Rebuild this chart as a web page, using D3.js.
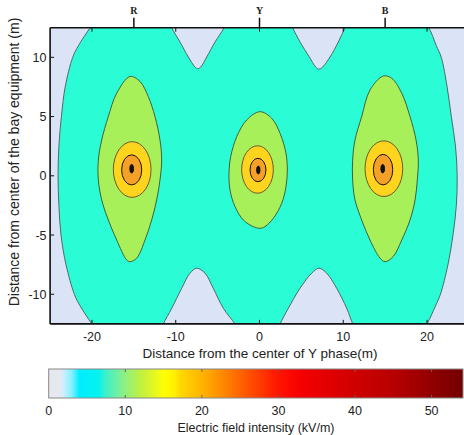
<!DOCTYPE html>
<html>
<head>
<meta charset="utf-8">
<script src="https://cdn.jsdelivr.net/npm/d3@7"></script>
<style>
  body { margin: 0; background: #fff; }
  text { font-family: "Liberation Sans", Arial, sans-serif; }
</style>
</head>
<body>
<div id="chart"></div>
<script>
// axis ticks
const xTicks = [-20, -10, 0, 10, 20];
const yTicks = [-10, -5, 0, 5, 10];
const cbTicks = [0, 10, 20, 30, 40, 50];
const phaseNames = ["R", "Y", "B"];
const phaseX = [-15, 0, 15];

// contour lines, [x (m), y (m)]
// outer contour (grey / turquoise boundary)
const edgeLeft = [[-19.0, 13.5], [-20.2, 12.5], [-21.6, 11], [-22.3, 10], [-23.2, 7.5], [-23.65, 5], [-23.95, 2.5], [-24.05, 0], [-23.95, -2.5], [-23.7, -5], [-23.1, -7.5], [-22.1, -10], [-21.4, -11], [-20.0, -12.5], [-18.9, -13.5]];
const edgeRight = [[19.0, 13.5], [20.2, 12.5], [21.1, 11], [21.7, 10], [22.4, 7.5], [22.9, 5], [23.4, 2.5], [23.6, 0], [23.5, -2.5], [23.1, -5], [22.5, -7.5], [21.6, -10], [21.0, -11], [20.0, -12.5], [19.1, -13.5]];
const notchTop1 = [[-11.0, 13.3], [-10.48, 12.48], [-9.49, 11.29], [-8.5, 10.03], [-7.7, 9.18], [-7.38, 9.04], [-7.02, 9.18], [-6.3, 10.03], [-5.31, 11.29], [-4.24, 12.48], [-3.7, 13.3]];
const notchTop2 = [[3.4, 13.3], [3.96, 12.48], [4.84, 11.29], [5.95, 10.03], [6.71, 9.18], [7.1, 9.0], [7.54, 9.18], [8.42, 10.03], [9.41, 11.29], [10.2, 12.48], [10.8, 13.3]];
const notchBot1 = [[-12.0, -13.3], [-11.49, -12.5], [-10.48, -11.18], [-9.29, -9.49], [-8.3, -8.22], [-7.5, -7.8], [-6.5, -8.22], [-5.52, -9.49], [-4.32, -11.18], [-2.93, -12.5], [-2.3, -13.3]];
const notchBot2 = [[1.9, -13.3], [2.45, -12.5], [3.44, -11.18], [4.84, -9.49], [6.23, -8.22], [7.1, -7.8], [8.02, -8.22], [9.21, -9.49], [10.41, -11.18], [11.13, -12.5], [11.7, -13.3]];

// second contour (light green lobes)
const lobeR = [[-15.46, 8.38], [-14.27, 7.96], [-13.28, 6.69], [-12.48, 5.0], [-11.88, 3.02], [-11.68, 1.33], [-11.88, -0.35], [-12.28, -2.04], [-12.87, -3.73], [-13.67, -5.42], [-14.66, -6.95], [-15.46, -7.25], [-15.86, -7.1], [-17.05, -5.42], [-18.05, -3.73], [-18.84, -2.04], [-19.24, -0.35], [-19.24, 1.33], [-18.84, 3.02], [-18.05, 5.0], [-17.05, 6.97]];
const lobeY = [[0.06, 5.41], [1.46, 4.85], [2.45, 3.59], [3.16, 1.9], [3.32, 0.49], [3.16, -0.92], [2.65, -2.32], [1.65, -3.59], [0.66, -4.29], [0.06, -4.43], [-0.74, -4.29], [-1.93, -3.73], [-2.92, -2.61], [-3.52, -1.2], [-3.64, 0.21], [-3.44, 1.61], [-2.72, 3.3], [-1.53, 4.71]];
const lobeB = [[14.78, 8.42], [15.78, 8.24], [16.98, 6.97], [17.97, 5.0], [18.69, 3.02], [18.96, 1.33], [18.84, -0.35], [18.57, -2.04], [17.97, -3.73], [16.98, -5.42], [15.98, -6.8], [14.99, -7.25], [14.39, -6.95], [13.19, -5.42], [12.2, -3.73], [11.4, -2.04], [11.12, -0.35], [11.12, 1.33], [11.4, 3.02], [12.2, 5.0], [13.19, 7.24]];

// inner contours near the conductors (centre x, centre y, half width, half height in m)
const ringsYellow = [[-15.2, 0.53, 2.25, 2.35], [-0.24, 0.53, 1.89, 2.0], [14.85, 0.6, 2.25, 2.35]];
const ringsOrange = [[-15.26, 0.5, 1.2, 1.27], [-0.18, 0.49, 0.95, 0.99], [14.75, 0.52, 1.16, 1.29]];
const ringsCore = [[-15.26, 0.6, 0.22, 0.36], [-0.14, 0.49, 0.2, 0.33], [14.71, 0.6, 0.22, 0.36]];

// colour bar stops [kV/m, colour]
const cbStops = [[0, "#e6e8f0"], [1.6, "#e6e8f0"], [1.9, "#cdeffd"], [3.0, "#86f0ff"], [4.0, "#00eeff"], [6.5, "#05f2ee"], [7.5, "#40f0c8"], [9, "#70f0a0"], [10, "#90f080"], [12, "#c0f040"], [14, "#e8f820"], [15, "#ffff00"], [16.5, "#fff000"], [17.2, "#ffd800"], [20, "#ffb400"], [22, "#ff9400"], [25, "#ff6400"], [28, "#ff3400"], [30, "#ff1400"], [33, "#f50000"], [38, "#da0000"], [45, "#b80000"], [50, "#920000"], [54.1, "#720000"]];

const W = 464, H = 435;
const svg = d3.select("#chart").append("svg")
  .attr("width", W)
  .attr("height", H);

const x = d3.scaleLinear().domain([-25, 25]).range([50.1, 468.9]);
const y = d3.scaleLinear().domain([12.5, -12.5]).range([27.7, 323.9]);

svg.append("clipPath").attr("id", "plotclip")
  .append("rect")
  .attr("x", x(-25)).attr("y", y(12.5))
  .attr("width", x(25) - x(-25)).attr("height", y(-12.5) - y(12.5));

const plot = svg.append("g").attr("clip-path", "url(#plotclip)");

// turquoise background
plot.append("rect")
  .attr("x", x(-25)).attr("y", y(12.5))
  .attr("width", x(25) - x(-25)).attr("height", y(-12.5) - y(12.5))
  .attr("fill", "#2afcd6");

const openLine = d3.line().x(d => x(d[0])).y(d => y(d[1])).curve(d3.curveCatmullRom.alpha(0.5));
const closedLine = d3.line().x(d => x(d[0])).y(d => y(d[1])).curve(d3.curveCatmullRomClosed.alpha(0.5));

// grey areas: open contour plus a closing run outside the plot
function greyArea(pts, extra) {
  let p = openLine(pts);
  extra.forEach(e => { p += "L" + x(e[0]) + "," + y(e[1]); });
  return p + "Z";
}
const greyColor = "#dae4f6", edgeColor = "#4e6a66";
[
  [edgeLeft, [[-30, -13.5], [-30, 13.5]]],
  [edgeRight, [[30, -13.5], [30, 13.5]]],
  [notchTop1, []], [notchTop2, []], [notchBot1, []], [notchBot2, []]
].forEach(a => {
  plot.append("path").attr("d", greyArea(a[0], a[1])).attr("fill", greyColor);
  plot.append("path").attr("d", openLine(a[0])).attr("fill", "none")
    .attr("stroke", edgeColor).attr("stroke-width", 1);
});

// green lobes
[lobeR, lobeY, lobeB].forEach(l => {
  plot.append("path").attr("d", closedLine(l))
    .attr("fill", "#a8f05a").attr("stroke", "#3f6138").attr("stroke-width", 1);
});

function rings(data, fill, stroke) {
  plot.selectAll(null).data(data).join("ellipse")
    .attr("cx", d => x(d[0])).attr("cy", d => y(d[1]))
    .attr("rx", d => x(d[0] + d[2]) - x(d[0]))
    .attr("ry", d => y(d[1] - d[3]) - y(d[1]))
    .attr("fill", fill).attr("stroke", stroke).attr("stroke-width", 1);
}
rings(ringsYellow, "#ffd41e", "#6b5a28");
rings(ringsOrange, "#f5a128", "#1a1208");
rings(ringsCore, "#111", "#111");

// axes frame
const frame = svg.append("g").attr("stroke", "#111").attr("stroke-width", 1.6);
frame.append("line").attr("x1", x(-25)).attr("x2", x(-25)).attr("y1", y(12.5)).attr("y2", y(-12.5));
frame.append("line").attr("x1", x(-25)).attr("x2", x(25)).attr("y1", y(12.5)).attr("y2", y(12.5));
frame.append("line").attr("x1", x(-25)).attr("x2", x(25)).attr("y1", y(-12.5)).attr("y2", y(-12.5));

// inward ticks
const tk = svg.append("g").attr("stroke", "#111").attr("stroke-width", 1);
xTicks.forEach(t => {
  tk.append("line").attr("x1", x(t)).attr("x2", x(t)).attr("y1", y(-12.5)).attr("y2", y(-12.5) - 4);
  tk.append("line").attr("x1", x(t)).attr("x2", x(t)).attr("y1", y(12.5)).attr("y2", y(12.5) + 4);
});
yTicks.forEach(t => {
  tk.append("line").attr("x1", x(-25)).attr("x2", x(-25) + 4).attr("y1", y(t)).attr("y2", y(t));
});

// phase markers on top
phaseX.forEach((p, i) => {
  svg.append("line").attr("x1", x(p)).attr("x2", x(p)).attr("y1", y(12.5)).attr("y2", y(12.5) - 10)
    .attr("stroke", "#111").attr("stroke-width", 1.5);
  svg.append("text").attr("x", x(p)).attr("y", 13.5)
    .attr("text-anchor", "middle")
    .style("font-family", "'Liberation Serif', 'Times New Roman', serif")
    .style("font-weight", "bold").style("font-size", "10px")
    .attr("fill", "#222").text(phaseNames[i]);
});

// tick labels
svg.selectAll(".xl").data(xTicks).join("text")
  .attr("x", d => x(d)).attr("y", 341)
  .attr("text-anchor", "middle").style("font-size", "12.5px").attr("fill", "#222")
  .text(d => d);
svg.selectAll(".yl").data(yTicks).join("text")
  .attr("x", 46.5).attr("y", d => y(d) + 4.5)
  .attr("text-anchor", "end").style("font-size", "12.5px").attr("fill", "#222")
  .text(d => d);

svg.append("text").attr("x", 260).attr("y", 358)
  .attr("text-anchor", "middle").style("font-size", "13.5px").attr("fill", "#222")
  .text("Distance from the center of Y phase(m)");
svg.append("text")
  .attr("transform", "translate(19,162) rotate(-90)")
  .attr("text-anchor", "middle").style("font-size", "14px").attr("fill", "#222")
  .text("Distance from center of the bay equipment (m)");

// colour bar
const cb = d3.scaleLinear().domain([0, 54.1]).range([48.7, 463]);
const grad = svg.append("defs").append("linearGradient").attr("id", "cbgrad")
  .attr("x1", "0%").attr("x2", "100%");
grad.selectAll("stop").data(cbStops).join("stop")
  .attr("offset", d => (d[0] / 54.1 * 100) + "%")
  .attr("stop-color", d => d[1]);
svg.append("rect").attr("x", cb(0)).attr("y", 369)
  .attr("width", cb(54.1) - cb(0)).attr("height", 29)
  .attr("fill", "url(#cbgrad)").attr("stroke", "#888").attr("stroke-width", 1);
cbTicks.filter(t => t > 0).forEach(t => {
  svg.append("line").attr("x1", cb(t)).attr("x2", cb(t)).attr("y1", 369).attr("y2", 372).attr("stroke", "#666");
  svg.append("line").attr("x1", cb(t)).attr("x2", cb(t)).attr("y1", 398).attr("y2", 395).attr("stroke", "#666");
});
svg.selectAll(".cl").data(cbTicks).join("text")
  .attr("x", d => cb(d)).attr("y", 415)
  .attr("text-anchor", "middle").style("font-size", "12.5px").attr("fill", "#222")
  .text(d => d);
svg.append("text").attr("x", 256).attr("y", 432)
  .attr("text-anchor", "middle").style("font-size", "12.5px").attr("fill", "#222")
  .text("Electric field intensity (kV/m)");
</script>
</body>
</html>
